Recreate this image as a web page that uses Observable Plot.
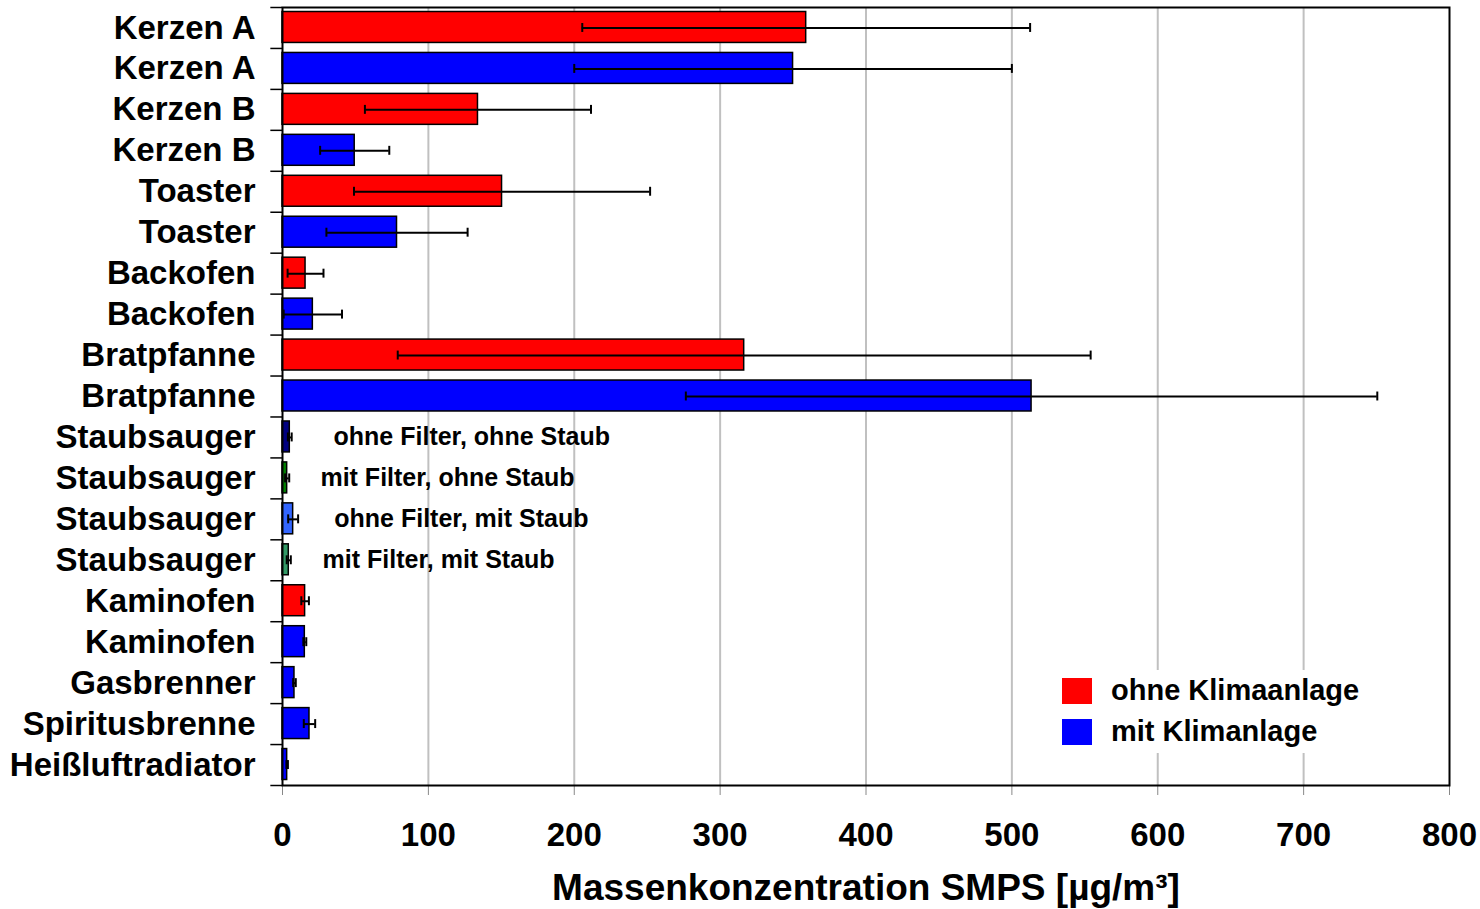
<!DOCTYPE html>
<html>
<head>
<meta charset="utf-8">
<script src="https://cdn.jsdelivr.net/npm/d3@7"></script>
<script src="https://cdn.jsdelivr.net/npm/@observablehq/plot@0.6"></script>
<style>
  html, body { margin: 0; padding: 0; background: #fff; }
  #chart { position: relative; width: 1480px; height: 909px; font-family: "Liberation Sans", Arial, sans-serif; font-weight: bold; }
  #legend { position: absolute; left: 1050px; top: 670px; width: 315px; height: 83px; background: #fff; }
  .item { position: absolute; left: 12px; display: flex; align-items: center; font-size: 29px; color: #000; }
  .sw { width: 30px; height: 26px; margin-right: 19px; }
</style>
</head>
<body>
<div id="chart"><div id="legend"></div></div>
<script>
// Sources, top to bottom
const labels = ["Kerzen A", "Kerzen A", "Kerzen B", "Kerzen B", "Toaster", "Toaster",
  "Backofen", "Backofen", "Bratpfanne", "Bratpfanne",
  "Staubsauger", "Staubsauger", "Staubsauger", "Staubsauger",
  "Kaminofen", "Kaminofen", "Gasbrenner", "Spiritusbrenne", "Heißluftradiator"];

// Condition of each measurement
const groups = ["ohne Klimaanlage", "mit Klimanlage", "ohne Klimaanlage", "mit Klimanlage",
  "ohne Klimaanlage", "mit Klimanlage", "ohne Klimaanlage", "mit Klimanlage",
  "ohne Klimaanlage", "mit Klimanlage",
  "ohne Filter, ohne Staub", "mit Filter, ohne Staub", "ohne Filter, mit Staub", "mit Filter, mit Staub",
  "ohne Klimaanlage", "mit Klimanlage", "mit Klimanlage", "mit Klimanlage", "mit Klimanlage"];

// Mean mass concentration (µg/m³) and standard deviation
const means = [359, 350, 134, 49.5, 150.5, 78.5, 15.8, 20.8, 316.5, 513.5,
  5, 3.2, 7.3, 4.3, 15.5, 15.3, 8.2, 18.5, 3.2];
const sds = [153.5, 150, 77.5, 23.7, 101.5, 48.4, 12.3, 20, 237.5, 237,
  1.3, 1.4, 3.4, 1.4, 2.6, 1, 0.9, 3.9, 0.5];

// Vacuum cleaner variants are annotated beside their bars
const noteGroups = ["ohne Filter, ohne Staub", "mit Filter, ohne Staub", "ohne Filter, mit Staub", "mit Filter, mit Staub"];
const noteX = [35, 26, 35.5, 27.5];

const legendGroups = ["ohne Klimaanlage", "mit Klimanlage"];
const xTicks = [0, 100, 200, 300, 400, 500, 600, 700, 800];

const colorDomain = ["ohne Klimaanlage", "mit Klimanlage",
  "ohne Filter, ohne Staub", "mit Filter, ohne Staub", "ohne Filter, mit Staub", "mit Filter, mit Staub"];
const colorRange = ["#ff0000", "#0000ff", "#000080", "#008000", "#3366ff", "#339966"];

const rows = labels.map((label, i) => ({
  id: i, label, group: groups[i], mean: means[i],
  lo: means[i] - sds[i], hi: means[i] + sds[i]
}));
const notes = noteGroups.map((g, k) => {
  const i = groups.indexOf(g);
  return { id: i, text: g, x: noteX[k] };
});

const width = 1480, height = 909;
const marginTop = 7, marginBottom = 124, marginLeft = 282, marginRight = 31;
const step = (height - marginTop - marginBottom) / labels.length;
const ids = rows.map(d => d.id);

const chart = Plot.plot({
  width, height, marginTop, marginBottom, marginLeft, marginRight,
  style: { fontFamily: '"Liberation Sans", Arial, sans-serif', fontWeight: "bold", background: "#fff", color: "#000" },
  x: { domain: [0, 800] },
  y: { domain: ids, padding: 0, round: false },
  color: { domain: colorDomain, range: colorRange },
  marks: [
    Plot.ruleX(xTicks.slice(1, -1), { stroke: "#c0c0c0", strokeWidth: 2 }),
    Plot.barX(rows, { x: "mean", y: "id", fill: "group", stroke: "#000", strokeWidth: 1.5, insetTop: 4.5, insetBottom: 5.5 }),
    Plot.ruleY(rows, { y: "id", x1: "lo", x2: "hi", stroke: "#000", strokeWidth: 2 }),
    Plot.tickX(rows, { x: "lo", y: "id", stroke: "#000", strokeWidth: 2, insetTop: 16, insetBottom: 16 }),
    Plot.tickX(rows, { x: "hi", y: "id", stroke: "#000", strokeWidth: 2, insetTop: 16, insetBottom: 16 }),
    Plot.text(notes, { x: "x", y: "id", text: "text", textAnchor: "start", fontSize: 25, fill: "#000" }),
    // category boundary ticks on the left edge
    Plot.ruleY(ids, { y: d => d, x1: -8, x2: 0, dy: -step / 2, stroke: "#000", strokeWidth: 1.5 }),
    Plot.ruleY(ids.slice(-1), { y: d => d, x1: -8, x2: 0, dy: step / 2, stroke: "#000", strokeWidth: 1.5 }),
    Plot.axisY({ tickSize: 0, tickPadding: 27, fontSize: 33, tickFormat: i => labels[i], label: null }),
    Plot.axisX({ ticks: xTicks, tickSize: 10, stroke: "#888", tickPadding: 27, fontSize: 33, label: null }),
    Plot.frame({ stroke: "#000", strokeWidth: 2 }),
    Plot.text(["Massenkonzentration SMPS [µg/m³]"], { frameAnchor: "bottom", dy: 114, fontSize: 37, fill: "#000" })
  ]
});
document.getElementById("chart").prepend(chart);

// Legend inside the plot area
const legend = d3.select("#legend");
legendGroups.forEach((g, k) => {
  const item = legend.append("div").attr("class", "item").style("top", (k === 0 ? 4 : 45) + "px");
  item.append("div").attr("class", "sw").style("background", colorRange[colorDomain.indexOf(g)]);
  item.append("span").text(g);
});
</script>
</body>
</html>
